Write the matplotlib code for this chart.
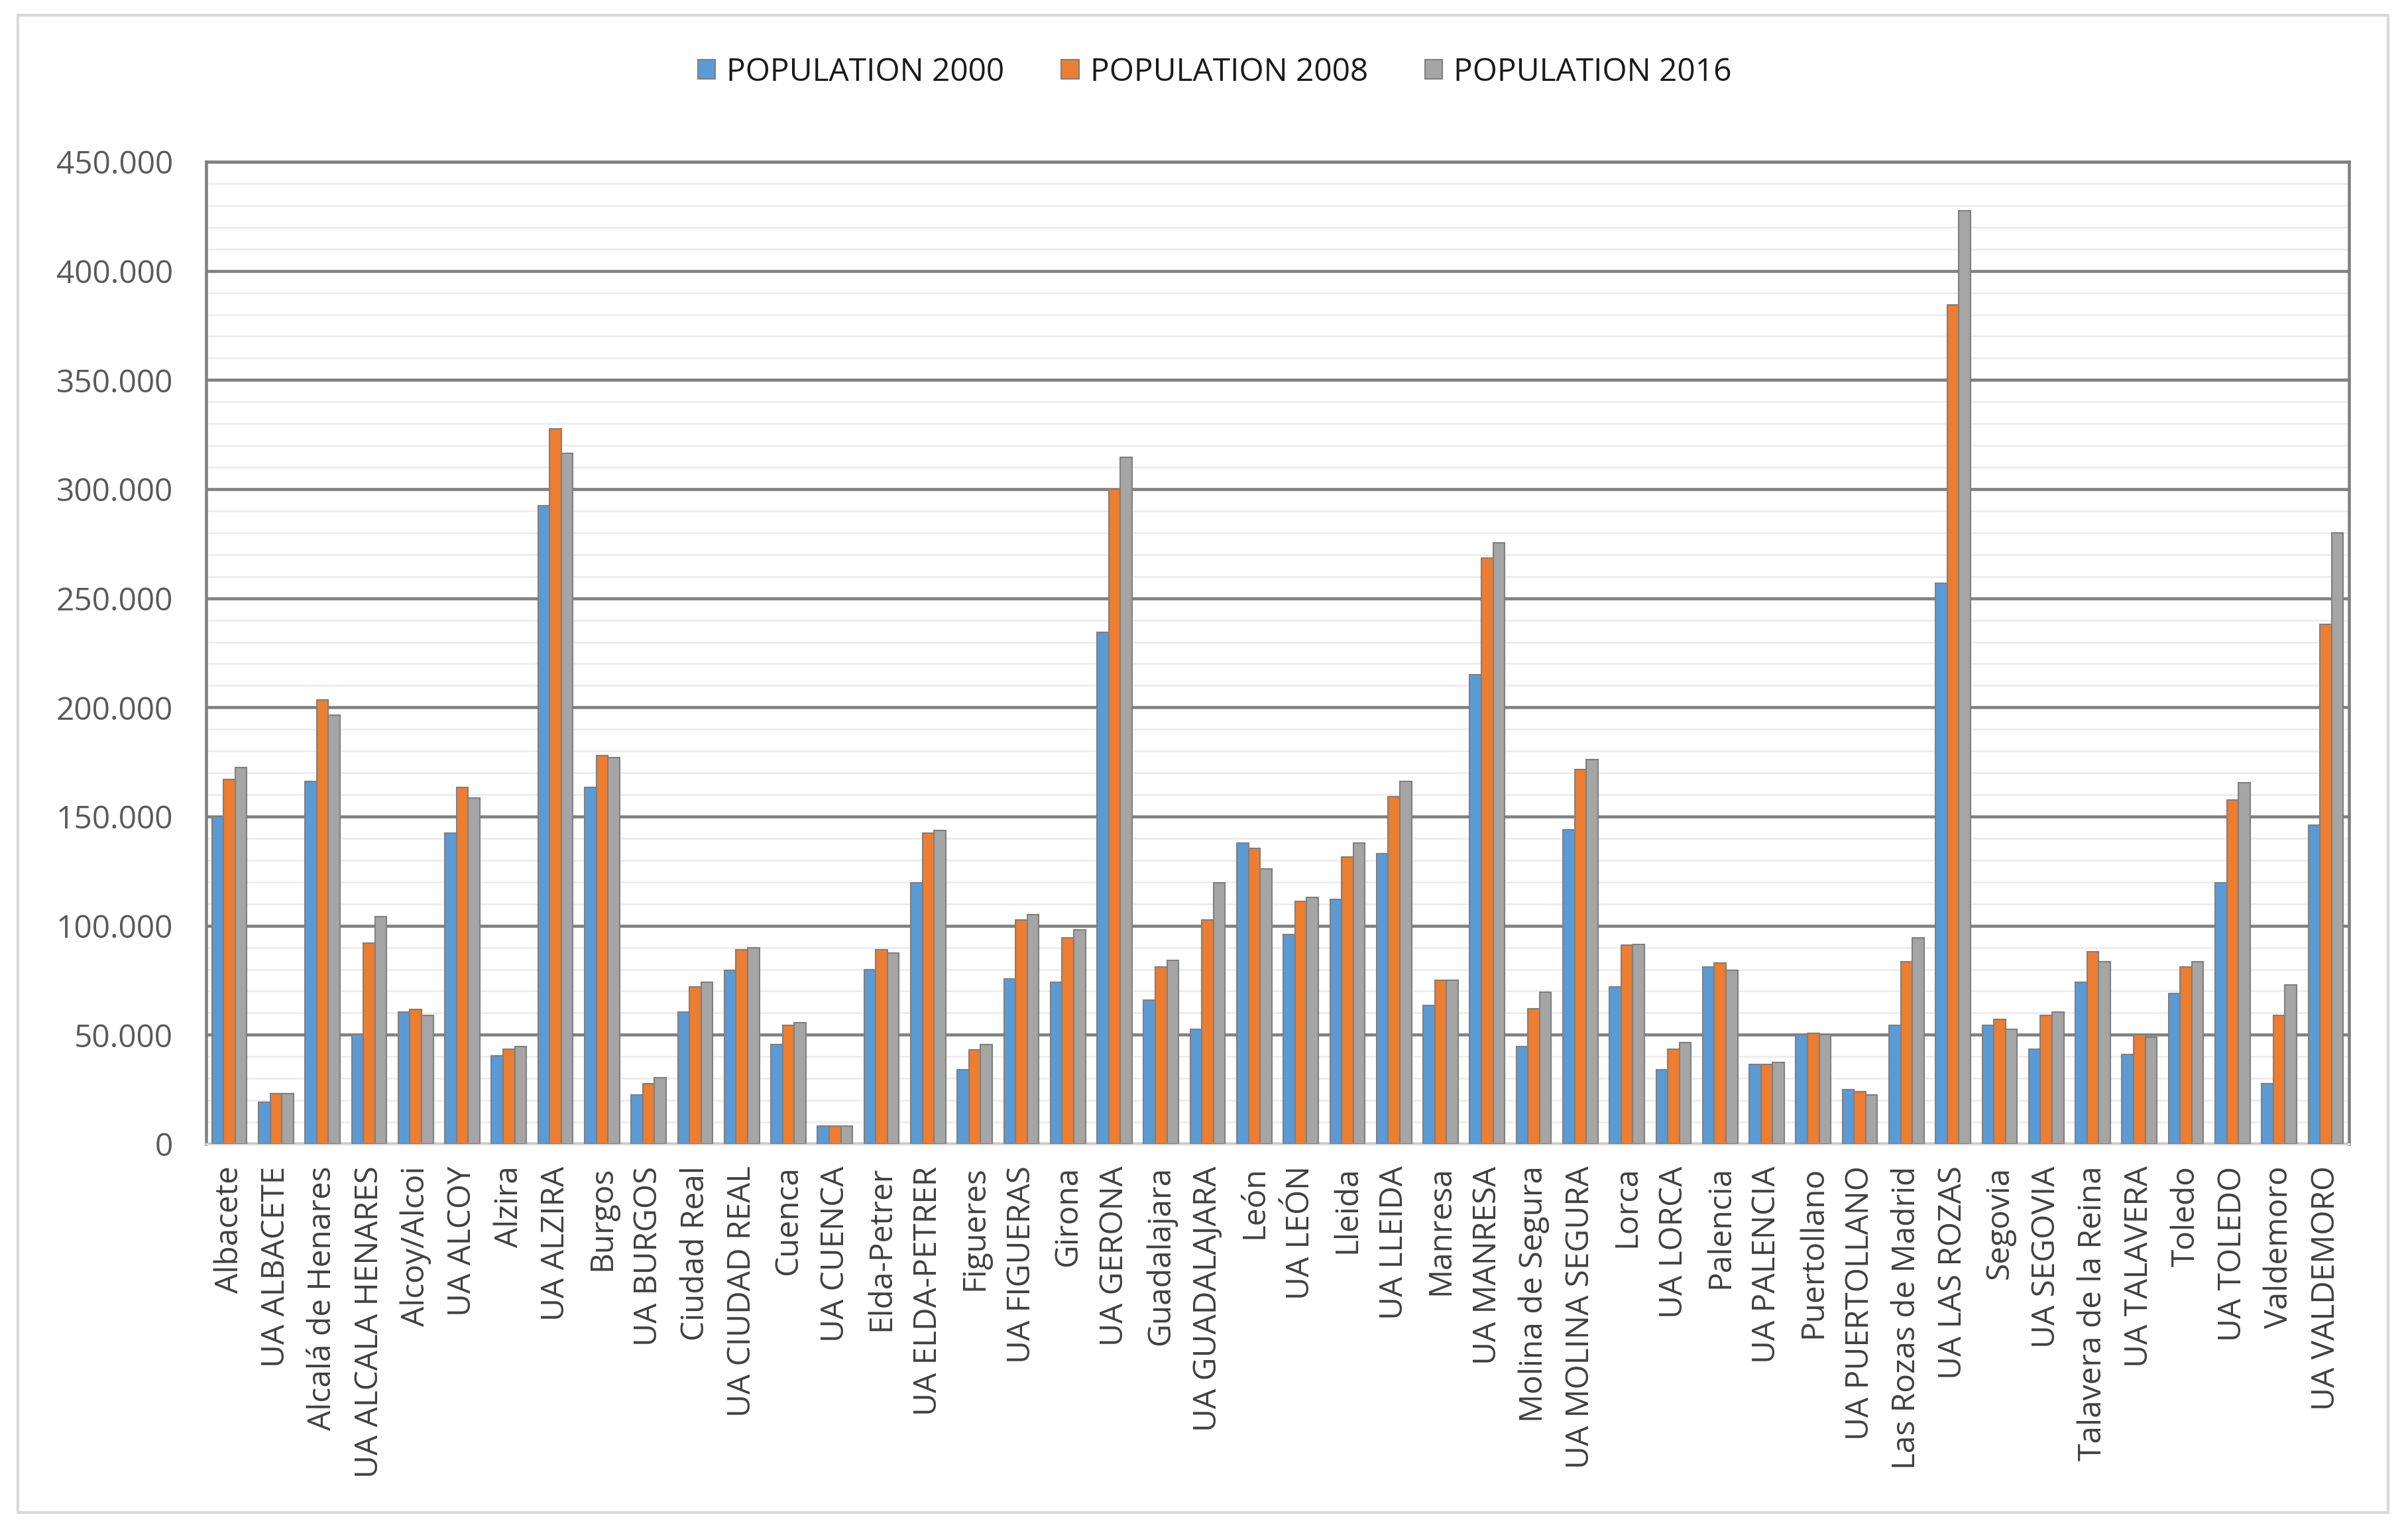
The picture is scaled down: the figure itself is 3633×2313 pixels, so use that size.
import matplotlib
matplotlib.use("Agg")
import matplotlib.pyplot as plt
import numpy as np
from matplotlib.ticker import FuncFormatter, MultipleLocator
from matplotlib.patches import Rectangle

categories = [
    "Albacete", "UA ALBACETE", "Alcalá de Henares", "UA ALCALA HENARES",
    "Alcoy/Alcoi", "UA ALCOY", "Alzira", "UA ALZIRA", "Burgos", "UA BURGOS",
    "Ciudad Real", "UA CIUDAD REAL", "Cuenca", "UA CUENCA", "Elda-Petrer",
    "UA ELDA-PETRER", "Figueres", "UA FIGUERAS", "Girona", "UA GERONA",
    "Guadalajara", "UA GUADALAJARA", "León", "UA LEÓN", "Lleida", "UA LLEIDA",
    "Manresa", "UA MANRESA", "Molina de Segura", "UA MOLINA SEGURA", "Lorca",
    "UA LORCA", "Palencia", "UA PALENCIA", "Puertollano", "UA PUERTOLLANO",
    "Las Rozas de Madrid", "UA LAS ROZAS", "Segovia", "UA SEGOVIA",
    "Talavera de la Reina", "UA TALAVERA", "Toledo", "UA TOLEDO", "Valdemoro",
    "UA VALDEMORO",
]

pop_2000 = [150000, 19000, 166000, 50000, 60500, 142500, 40500, 292500, 163500, 22500,
            60500, 79500, 45500, 8300, 80000, 119500, 34000, 75500, 74000, 234500,
            66000, 52500, 138000, 96000, 112000, 133000, 63500, 215000, 44500, 144000,
            72000, 34000, 81000, 36500, 50000, 25000, 54500, 257000, 54500, 43500,
            74000, 41000, 69000, 119500, 27500, 146000]
pop_2008 = [167000, 23000, 203500, 92000, 61500, 163500, 43500, 327500, 178000, 27500,
            72000, 89000, 54500, 8300, 89000, 142500, 43000, 102500, 94500, 300000,
            81000, 102500, 135500, 111000, 131500, 159000, 75000, 268500, 62000, 171500,
            91000, 43500, 83000, 36500, 50700, 24000, 83500, 384500, 57000, 59000,
            88000, 50000, 81000, 157500, 59000, 238000]
pop_2016 = [172500, 23000, 196500, 104000, 59000, 158500, 44500, 316500, 177000, 30500,
            74000, 90000, 55500, 8300, 87500, 143500, 45500, 105000, 98000, 314500,
            84000, 119500, 126000, 113000, 138000, 166000, 75000, 275500, 69500, 176000,
            91500, 46500, 79500, 37500, 50000, 22500, 94500, 427500, 52500, 60500,
            83500, 49000, 83500, 165500, 73000, 280000]

series_names = ["POPULATION 2000", "POPULATION 2008", "POPULATION 2016"]
colors = ["#5B9BD5", "#ED7D31", "#A5A5A5"]

plt.rcParams['font.family'] = ['Open Sans', 'DejaVu Sans']

fig = plt.figure(figsize=(3633 / 300, 2313 / 300), dpi=300)
ax = fig.add_axes([311 / 3633, 1 - 1726 / 2313, (3544 - 311) / 3633, (1726 - 244) / 2313])

x = np.arange(len(categories))
w = 0.25
for i, (vals, name, c) in enumerate(zip([pop_2000, pop_2008, pop_2016], series_names, colors)):
    ax.bar(x + (i - 1) * w, vals, width=w, color=c, edgecolor="#7f7f7f",
           linewidth=0.5, label=name, zorder=3)

ax.set_xlim(-0.5, len(categories) - 0.5)
ax.set_ylim(0, 450000)
ax.yaxis.set_major_locator(MultipleLocator(50000))
ax.yaxis.set_minor_locator(MultipleLocator(10000))

def fmt(v, pos):
    if v == 0:
        return "0"
    return f"{int(v):,}".replace(",", ".")

ax.yaxis.set_major_formatter(FuncFormatter(fmt))
ax.grid(which="minor", axis="y", color="#ebebeb", linewidth=0.6, zorder=0)
ax.grid(which="major", axis="y", color="#808080", linewidth=1.1, zorder=1)
ax.tick_params(axis="y", which="both", length=0, pad=12, labelsize=11.5, labelcolor="#595959")
ax.tick_params(axis="x", length=0, pad=8, labelsize=11.5, labelcolor="#404040")
ax.set_xticks(x)
ax.set_xticklabels(categories, rotation=90, ha="center", va="top")

for side in ["left", "top", "right"]:
    ax.spines[side].set_color("#808080")
    ax.spines[side].set_linewidth(1.1)
ax.spines["bottom"].set_color("#d9d9d9")
ax.spines["bottom"].set_linewidth(0.8)

fig.legend(loc="center", bbox_to_anchor=(0.5045, 1 - 109 / 2313), ncol=3, frameon=False,
           fontsize=11.5, handlelength=0.55, handleheight=0.55, handletextpad=0.35,
           columnspacing=1.8, labelcolor="#1a1a1a")

border = Rectangle((27 / 3633, 1 - 2282 / 2313), (3603 - 27) / 3633, (2282 - 23) / 2313,
                   transform=fig.transFigure, fill=False, edgecolor="#d9d9d9", linewidth=1.0)
fig.patches.append(border)

fig.savefig("out.png", dpi=300, facecolor="white")
